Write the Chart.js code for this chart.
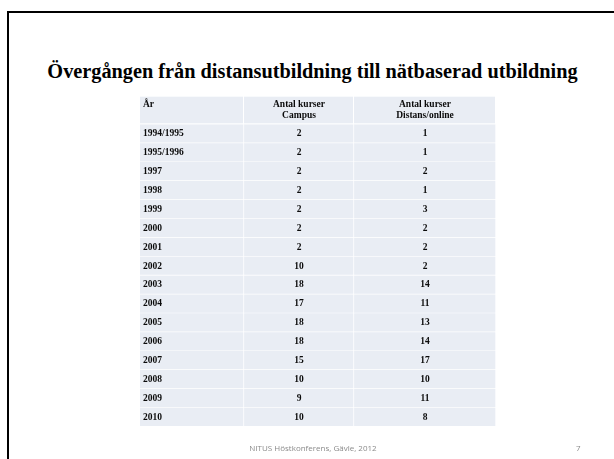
<!DOCTYPE html>
<html>
<head>
<meta charset="utf-8">
<script src="https://cdn.jsdelivr.net/npm/chart.js@4.4.0/dist/chart.umd.min.js"></script>
<style>
  html, body { margin: 0; padding: 0; background: #fff; }
  #slide { position: relative; width: 614px; height: 459px; overflow: hidden; }
  #frame { position: absolute; left: 7px; top: 11px; width: 700px; height: 600px;
           border-left: 2.5px solid #000; border-top: 2.5px solid #000; }
  #title { position: absolute; left: 0; top: 61px; width: 625px; text-align: center;
           font: bold 20.3px "Liberation Serif"; line-height: 20px; color: #000; white-space: nowrap; }
  #footer { position: absolute; left: 0; top: 443px; width: 626px; text-align: center;
            font: 8px "Open Sans"; line-height: 10px; color: #8a8a8a; }
  #pagenr { position: absolute; left: 576px; top: 443px; font: 8px "Open Sans"; line-height: 10px; color: #8a8a8a; }
  canvas { position: absolute; left: 0; top: 0; }
</style>
</head>
<body>
<div id="slide">
  <div id="frame"></div>
  <div id="title">Övergången från distansutbildning till nätbaserad utbildning</div>
  <canvas id="myChart" width="614" height="459"></canvas>
  <div id="footer">NITUS Höstkonferens, Gävle, 2012</div>
  <div id="pagenr">7</div>
</div>
<script>
// table contents
const years = ['1994/1995', '1995/1996', '1997', '1998', '1999', '2000', '2001', '2002',
               '2003', '2004', '2005', '2006', '2007', '2008', '2009', '2010'];
const campus = [2, 2, 2, 2, 2, 2, 2, 10, 18, 17, 18, 18, 15, 10, 9, 10];
const distans = [1, 1, 2, 1, 3, 2, 2, 2, 14, 11, 13, 14, 17, 10, 11, 8];
const headers = [['År'], ['Antal kurser', 'Campus'], ['Antal kurser', 'Distans/online']];

// layout
const colWidths = [104, 110, 142];
const headerHeight = 27.6;
const cellColor = '#e9edf4';
const textFont = 'bold 9.5px "Liberation Serif"';

const columns = [years, campus, distans];

const tableText = {
	id: 'tableText',
	afterDatasetsDraw(chart) {
		const ctx = chart.ctx;
		const area = chart.chartArea;
		const x = chart.scales.x;
		const y = chart.scales.y;
		const headTop = area.top - headerHeight;

		ctx.save();
		let start = 0;
		colWidths.forEach(function(w, c) {
			const x0 = x.getPixelForValue(start);
			const x1 = x.getPixelForValue(start + w);
			// header cell
			ctx.fillStyle = cellColor;
			ctx.fillRect(x0, headTop, x1 - x0 - 1, headerHeight - 1);

			ctx.fillStyle = '#0a0a0a';
			ctx.font = textFont;
			ctx.textBaseline = 'alphabetic';
			ctx.textAlign = c == 0 ? 'left' : 'center';
			const tx = c == 0 ? x0 + 3 : (x0 + x1) / 2;
			headers[c].forEach(function(line, k) {
				ctx.fillText(line, tx, headTop + 10.5 + k * 11);
			});

			columns[c].forEach(function(v, i) {
				ctx.fillText(String(v), tx, y.getPixelForValue(i) + 2.5);
			});
			start += w;
		});
		ctx.restore();
	}
};

const datasets = colWidths.map(function(w) {
	return {
		data: years.map(function() { return w; }),
		backgroundColor: cellColor,
		borderColor: '#ffffff',
		borderWidth: { top: 0, left: 0, right: 1, bottom: 1 },
		borderSkipped: false,
		barPercentage: 1,
		categoryPercentage: 1
	};
});

const ctx = document.getElementById('myChart').getContext('2d');
const myChart = new Chart(ctx, {
	type: 'bar',
	data: { labels: years, datasets: datasets },
	options: {
		indexAxis: 'y',
		responsive: false,
		animation: false,
		layout: { padding: { left: 140, right: 118, top: 124.3, bottom: 32.3 } },
		plugins: { legend: { display: false }, tooltip: { enabled: false } },
		scales: {
			x: { type: 'linear', stacked: true, min: 0, max: colWidths[0] + colWidths[1] + colWidths[2], display: false },
			y: { stacked: true, display: false }
		}
	},
	plugins: [tableText]
});
</script>
</body>
</html>
